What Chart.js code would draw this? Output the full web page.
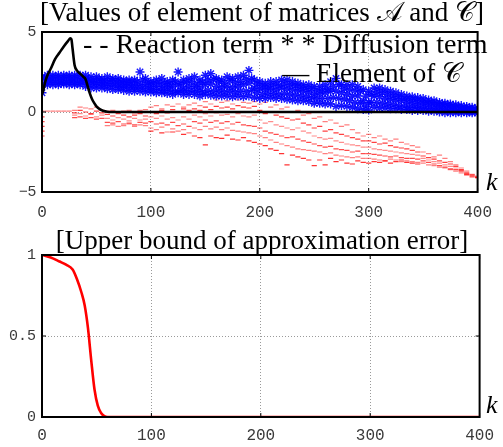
<!DOCTYPE html>
<html><head><meta charset="utf-8">
<script src="https://cdn.jsdelivr.net/npm/chart.js@4"></script>
<style>
html,body{margin:0;padding:0;background:#fff;}
body{width:503px;height:447px;position:relative;overflow:hidden;}
#c1{position:absolute;left:0;top:0;}
#c2{position:absolute;left:0;top:220px;}
</style></head><body>
<canvas id="c1" width="503" height="220"></canvas>
<canvas id="c2" width="503" height="227"></canvas>
<script>
// ---------- DATA ----------
const xTicks = [0, 100, 200, 300, 400];
const yTicksTop = [-5, 0, 5];
const yTicksBottom = [0, 0.5, 1];

// k grid for the scattered matrix elements
const kGrid = [0,5,10,15,20,25,30,35,40,45,50,55,60,65,70,75,80,85,90,95,
  100,105,110,115,120,125,130,135,140,145,150,155,160,165,170,175,180,185,190,195,
  200,205,210,215,220,225,230,235,240,245,250,255,260,265,270,275,280,285,290,295,
  300,305,310,315,320,325,330,335,340,345,350,355,360,365,370,375,380,385,390,395,400];
const kHalf = [2.5,7.5,12.5,17.5,22.5,27.5,32.5,37.5,42.5,47.5,52.5,57.5,62.5,67.5,72.5,77.5,82.5,87.5,92.5,97.5,
  102.5,107.5,112.5,117.5,122.5,127.5,132.5,137.5,142.5,147.5,152.5,157.5,162.5,167.5,172.5,177.5,182.5,187.5,192.5,197.5,
  202.5,207.5,212.5,217.5,222.5,227.5,232.5,237.5,242.5,247.5,252.5,257.5,262.5,267.5,272.5,277.5,282.5,287.5,292.5,297.5,
  302.5,307.5,312.5,317.5,322.5,327.5,332.5,337.5,342.5,347.5,352.5,357.5,362.5,367.5,372.5,377.5,382.5,387.5,392.5,397.5];

// Diffusion term: band read as five rows (top to bottom)
const diffHi = [2.2,2.3,2.3,2.3,2.3,2.3,2.3,2.3,2.3,2.2,2.2,2.1,2.2,2.1,2.1,2.0,2.0,2.0,2.5,2.1,
  1.9,2.0,2.1,1.9,2.0,2.5,2.0,2.1,2.2,2.0,2.3,2.4,2.1,2.0,2.2,2.1,2.2,2.3,2.6,2.0,
  1.9,1.8,1.9,1.9,2.0,2.0,1.9,1.8,1.7,1.7,1.6,1.6,1.7,1.9,2.1,1.7,1.7,1.7,1.6,1.4,
  1.3,1.5,1.5,1.4,1.3,1.2,1.1,1.0,0.95,0.9,0.85,0.75,0.7,0.6,0.55,0.5,0.45,0.4,0.35,0.3,0.25];
const diffUp = [2.1,2.15,2.2,2.15,2.2,2.15,2.2,2.1,
  2.05,2.0,2.05,1.95,2.0,1.95,1.9,1.85,1.85,1.9,2.0,1.85,
  1.8,1.85,1.8,1.75,1.9,1.8,1.85,1.9,1.75,1.85,
  2.0,2.05,1.9,1.8,1.95,1.85,1.9,2.05,2.1,1.75,
  1.65,1.6,1.7,1.65,1.75,1.7,1.65,1.55,1.5,1.45,
  1.35,1.4,1.45,1.6,1.7,1.45,1.4,1.35,1.3,1.0,
  1.1,1.25,1.2,1.1,1.0,0.95,0.85,0.8,0.75,0.7,
  0.65,0.6,0.55,0.5,0.45,0.4,0.35,0.3,0.25,0.2];
const diffMid = [1.7,2.0,2.0,2.0,2.0,2.0,2.0,2.0,1.95,1.9,1.85,1.85,1.8,1.8,1.75,1.7,1.7,1.65,1.7,1.7,
  1.6,1.6,1.6,1.55,1.6,1.7,1.5,1.6,1.6,1.5,1.7,1.75,1.6,1.55,1.6,1.55,1.6,1.7,1.8,1.5,
  1.45,1.4,1.45,1.4,1.5,1.45,1.4,1.35,1.3,1.25,1.1,1.15,1.2,1.3,1.3,1.2,1.1,1.0,1.0,0.7,
  0.6,1.0,0.95,0.85,0.8,0.75,0.7,0.6,0.55,0.5,0.5,0.45,0.4,0.35,0.3,0.25,0.2,0.15,0.12,0.1,0.08];
const diffDn = [1.8,1.85,1.85,1.8,1.85,1.85,1.8,1.85,
  1.75,1.7,1.7,1.65,1.65,1.6,1.55,1.55,1.5,1.5,1.5,1.45,
  1.4,1.4,1.35,1.35,1.3,1.35,1.3,1.35,1.3,1.25,
  1.35,1.3,1.3,1.25,1.3,1.25,1.3,1.3,1.35,1.2,
  1.1,1.15,1.15,1.1,1.15,1.1,1.05,1.0,0.95,0.9,
  0.85,0.85,0.85,0.9,0.85,0.8,0.7,0.6,0.55,0.35,
  0.6,0.6,0.55,0.5,0.45,0.4,0.35,0.3,0.3,0.25,
  0.25,0.2,0.2,0.15,0.1,0.1,0.05,0.05,0.0,0.0];
const diffLo = [1.2,1.7,1.7,1.7,1.75,1.7,1.7,1.7,1.6,1.5,1.5,1.5,1.45,1.4,1.4,1.35,1.3,1.3,1.3,1.25,
  1.25,1.2,1.2,1.15,1.1,1.2,1.1,1.1,1.1,1.0,1.1,1.05,1.0,1.0,1.0,0.95,1.0,0.95,1.0,0.9,
  0.85,0.85,0.9,0.85,0.85,0.8,0.75,0.7,0.7,0.65,0.55,0.55,0.5,0.5,0.35,0.4,0.35,0.3,0.2,0.15,
  0.12,0.3,0.25,0.25,0.2,0.2,0.15,0.15,0.1,0.1,0.1,0.05,0.05,0.0,-0.05,-0.05,-0.05,-0.05,-0.05,-0.05,-0.05];

// Reaction term: scattered cloud read as six rows (top to bottom), null = no mark
const react1 = [0.05,0.05,0.05,0.05,0.05,0.05,
  0.1,0.3,0.25,0.2,0.3,0.1,
  0.05,0.1,0.0,0.05,0.1,-0.05,0.1,0.15,
  0.3,0.4,0.2,0.45,0.35,0.5,0.3,0.45,
  0.55,0.4,0.65,0.5,0.75,0.6,0.7,0.5,0.75,0.6,0.55,0.65,
  0.5,0.6,0.3,0.45,0.2,0.3,0.0,0.1,-0.2,-0.1,
  -0.4,-0.3,-0.6,-0.5,-0.7,-0.9,-0.8,-1.1,-1.3,-1.5,
  -1.4,-1.6,-1.5,-1.7,-1.8,-1.7,-1.9,-2.0,-2.1,-2.2,
  -2.5,-2.6,-2.8,-2.7,-2.9,-3.1,-3.3,-3.5,-3.7,-3.9,-4.0];
const react2 = [null,null,null,null,null,null,
  -0.05,0.1,0.0,-0.1,0.05,-0.05,
  -0.15,-0.25,-0.1,-0.2,-0.3,-0.2,-0.1,-0.25,
  0.0,-0.1,0.1,-0.05,0.15,0.0,0.2,0.1,
  0.2,0.1,0.3,0.15,0.35,0.25,0.3,0.2,0.4,0.3,0.25,0.35,
  0.1,-0.1,0.0,-0.2,-0.3,-0.4,-0.5,-0.45,-0.7,-0.8,
  -1.0,-0.9,-1.2,-1.1,-1.3,-1.4,-1.5,-1.6,-1.7,-1.8,
  -1.8,-1.9,-2.0,-1.95,-2.1,-2.2,-2.25,-2.3,-2.4,-2.5,
  -2.75,-2.85,-2.95,-3.05,-3.15,-3.25,-3.4,-3.6,-3.8,-3.95,-4.05];
const react3 = [null,null,null,null,null,null,
  -0.2,-0.1,-0.25,-0.15,-0.3,-0.2,
  -0.4,-0.5,-0.35,-0.45,-0.55,-0.4,-0.5,-0.45,
  -0.3,-0.4,-0.25,-0.45,-0.35,-0.5,-0.3,-0.45,
  -0.2,-0.3,-0.1,-0.25,-0.05,-0.2,-0.15,-0.3,-0.1,-0.25,-0.3,-0.2,
  -0.5,-0.7,-0.6,-0.8,-0.9,-1.0,-1.1,-1.0,-1.2,-1.3,
  -1.5,-1.6,-1.7,-1.65,-1.8,-1.9,-2.0,-2.05,-2.1,-2.2,
  -2.2,-2.3,-2.35,-2.4,-2.45,-2.5,-2.55,-2.6,-2.65,-2.7,
  -2.9,-3.0,-3.1,-3.2,-3.3,-3.4,-3.5,-3.65,-3.85,-4.0,-4.1];
const react4 = [null,null,null,null,null,null,
  -0.35,-0.3,-0.4,-0.35,-0.45,-0.4,
  -0.65,-0.7,-0.6,-0.75,-0.7,-0.8,-0.65,-0.7,
  -0.6,-0.75,-0.7,-0.8,-0.65,-0.85,-0.75,-0.9,
  -0.6,-0.7,-0.5,-0.65,-0.55,-0.7,-0.6,-0.75,-0.65,-0.8,-0.85,-0.9,
  -1.0,-1.2,-1.3,-1.4,-1.5,-1.6,-1.55,-1.7,-1.8,-1.9,
  -2.0,-2.1,-2.2,-2.15,-2.3,-2.35,-2.4,-2.5,-2.45,-2.6,
  -2.6,-2.65,-2.7,-2.75,-2.8,-2.75,-2.85,-2.9,-2.9,-2.95,
  -3.05,-3.15,-3.25,-3.35,-3.45,-3.55,-3.6,-3.7,-3.9,-4.05,-4.1];
const react5 = [null,null,null,null,null,null,
  null,null,null,null,null,null,
  -0.85,-0.8,-0.9,-0.85,-0.75,-0.9,-0.8,-0.85,
  -1.0,-1.1,-0.95,-1.25,-1.05,-1.2,-1.1,-1.3,
  -1.0,-1.1,-0.9,-1.05,-0.95,-1.1,-1.0,-1.15,-1.2,-1.25,-1.3,-1.35,
  -1.5,-1.6,-1.75,-1.9,-2.0,-2.1,-2.2,-2.3,-2.35,-2.4,
  -2.45,-2.5,-2.6,-2.55,-2.7,-2.75,-2.8,-2.85,-2.8,-2.9,
  -2.9,-2.95,-3.0,-3.05,-2.95,-3.0,-3.1,-3.05,-3.1,-3.15,
  -3.2,-3.3,-3.35,-3.45,-3.5,-3.6,-3.7,-3.8,-3.95,null,null];
const react6 = [null,null,null,null,null,null,
  null,null,null,null,null,null,
  null,null,null,null,null,null,null,null,
  -1.2,null,-1.3,null,-1.25,null,-1.4,null,
  -1.5,-1.6,-2.05,-1.5,-1.6,-1.65,-1.45,-1.7,-1.75,-1.6,-1.8,-1.9,
  -2.0,-2.1,-2.3,-2.4,-2.6,-3.3,-2.7,-2.8,-2.9,-3.0,
  -3.35,-3.0,-3.3,-2.9,-3.1,-3.0,-3.2,-3.25,-3.05,-3.15,
  -3.2,-3.1,-3.15,-3.05,-3.2,-3.1,-3.0,-3.15,-3.2,-3.25,
  null,null,null,null,null,null,null,null,null,null,null];
// reaction term values sitting at k = 0
const reactEdgeK = [0, 0, 0, 0, 0];
const reactEdge = [-0.3, -0.6, -0.9, -1.2, -1.5];

// Element of C
const elemK = [0,1,3,5,8,12,16,20,24,26,27,28,30,32,35,38,40,42,44,46,48,50,53,56,60,70,400];
const elemC = [1.1,1.3,1.9,2.3,2.7,3.3,3.7,4.1,4.45,4.6,4.55,4.0,2.9,2.6,2.4,2.2,2.05,1.6,1.15,0.8,0.55,0.35,0.18,0.08,0.02,0,0];

// Upper bound of approximation error
const errK = [0,8,16,22,28,32,36,39,42,45,48,51,54,57,60,400];
const errV = [1.0,0.985,0.96,0.94,0.91,0.85,0.77,0.69,0.55,0.35,0.17,0.07,0.025,0.005,0,0];

// ---------- HELPERS ----------
const pts = (xs, ys) => xs.map((x, i) => ({x: x, y: ys[i]}));
const mono = '"Liberation Mono", "Courier New", monospace';
const tickColor = '#3a3a3a';

const frame = {
  id: 'frame',
  afterDraw(chart, args, o) {
    const {ctx, chartArea: a} = chart;
    const xs = chart.scales.x, ys = chart.scales.y;
    ctx.save();
    ctx.strokeStyle = '#000';
    ctx.lineWidth = 1;
    ctx.beginPath();
    xs.ticks.forEach(t => {
      const px = xs.getPixelForValue(t.value);
      ctx.moveTo(px, a.bottom); ctx.lineTo(px, a.bottom - 4);
      ctx.moveTo(px, a.top); ctx.lineTo(px, a.top + 4);
    });
    ys.ticks.forEach(t => {
      const py = ys.getPixelForValue(t.value);
      ctx.moveTo(a.left, py); ctx.lineTo(a.left + 4, py);
      ctx.moveTo(a.right, py); ctx.lineTo(a.right - 4, py);
    });
    ctx.stroke();
    ctx.lineWidth = 2;
    ctx.strokeRect(a.left, a.top, a.right - a.left, a.bottom - a.top);
    ctx.fillStyle = '#000';
    (o.texts || []).forEach(t => {
      ctx.font = t.font;
      ctx.textAlign = t.align || 'left';
      ctx.textBaseline = 'alphabetic';
      ctx.fillText(t.s, t.x, t.y);
    });
    ctx.restore();
  }
};

function scales(yMin, yMax, yTicks, xHeight, xPad, yFont) {
  const gridColor = ends => (c => (c.tick && ends.includes(c.tick.value)) ? 'rgba(0,0,0,0)' : '#9a9a9a');
  return {
    x: {
      type: 'linear', min: 0, max: 400,
      afterBuildTicks: ax => { ax.ticks = xTicks.map(v => ({value: v})); },
      ticks: {font: {family: mono, size: 16}, color: tickColor, padding: xPad, maxRotation: 0, autoSkip: false},
      grid: {drawTicks: false, color: gridColor([0, 400]), lineWidth: 1},
      border: {display: false, dash: [1, 2]},
      afterFit: s => { s.height = xHeight; }
    },
    y: {
      type: 'linear', min: yMin, max: yMax,
      afterBuildTicks: ax => { ax.ticks = yTicks.map(v => ({value: v})); },
      ticks: {font: yFont, color: tickColor, padding: 6, autoSkip: false,
        callback: v => (v < 0 ? '\u2212' + Math.abs(v) : String(v))},
      grid: {drawTicks: false, color: gridColor([yMin, yMax]), lineWidth: 1},
      border: {display: false, dash: [1, 2]},
      afterFit: s => { s.width = 42; }
    }
  };
}

const serif = '"Liberation Serif", "DejaVu Serif", serif';

// ---------- TOP CHART ----------
const redDash = (data, alpha) => ({
  label: 'Reaction term', data: data, showLine: false, order: 3,
  pointStyle: 'line', pointRadius: 2.6, borderWidth: 1.2,
  borderColor: 'rgba(255,0,0,' + alpha + ')', backgroundColor: 'rgba(255,0,0,' + alpha + ')'
});
const blueStar = data => ({
  label: 'Diffusion term', data: data, showLine: false, order: 2,
  pointStyle: 'star', pointRadius: 4.5, borderWidth: 1.4,
  borderColor: 'rgba(0,0,255,0.9)', backgroundColor: 'rgba(0,0,255,0.9)'
});

new Chart(document.getElementById('c1'), {
  type: 'scatter',
  data: {
    datasets: [
      {label: 'Element of C', data: pts(elemK, elemC), showLine: true, order: 0,
       borderColor: '#000', borderWidth: 2.6, pointRadius: 0, cubicInterpolationMode: 'monotone', fill: false},
      blueStar(pts(kGrid, diffHi)), blueStar(pts(kHalf, diffUp)), blueStar(pts(kGrid, diffMid)),
      blueStar(pts(kHalf, diffDn)), blueStar(pts(kGrid, diffLo)),
      redDash(pts(kGrid, react1), 0.5), redDash(pts(kGrid, react2), 0.75), redDash(pts(kGrid, react3), 0.45),
      redDash(pts(kGrid, react4), 0.7), redDash(pts(kGrid, react5), 0.5), redDash(pts(kGrid, react6), 0.8),
      redDash(pts(reactEdgeK, reactEdge), 0.7)
    ]
  },
  options: {
    responsive: false, animation: false, devicePixelRatio: 1,
    layout: {padding: {top: 32, right: 21, left: 0, bottom: 0}},
    plugins: {
      legend: {display: false}, tooltip: {enabled: false},
      frame: {texts: [
        {s: '[Values of element of matrices \u{1D49C} and \u{1D49E}]', x: 262, y: 21, align: 'center', font: '27px ' + serif},
        {s: '- - Reaction term * * Diffusion term', x: 83, y: 53, align: 'left', font: '28px ' + serif},
        {s: '\u2014 Element of \u{1D49E}', x: 462, y: 82, align: 'right', font: '27px ' + serif},
        {s: 'k', x: 486, y: 190, align: 'left', font: 'italic 26px ' + serif}
      ]}
    },
    scales: scales(-5, 5, yTicksTop, 28, 11, {family: '"Liberation Sans", sans-serif', size: 15})
  },
  plugins: [frame]
});

// ---------- BOTTOM CHART ----------
new Chart(document.getElementById('c2'), {
  type: 'scatter',
  data: {
    datasets: [
      {label: 'Upper bound of approximation error', data: pts(errK, errV), showLine: true,
       borderColor: '#ff0000', borderWidth: 2.6, pointRadius: 0, cubicInterpolationMode: 'monotone', fill: false}
    ]
  },
  options: {
    responsive: false, animation: false, devicePixelRatio: 1,
    layout: {padding: {top: 35, right: 21, left: 0, bottom: 0}},
    plugins: {
      legend: {display: false}, tooltip: {enabled: false},
      frame: {texts: [
        {s: '[Upper bound of approximation error]', x: 262, y: 29, align: 'center', font: '27px ' + serif},
        {s: 'k', x: 486, y: 193, align: 'left', font: 'italic 26px ' + serif}
      ]}
    },
    scales: scales(0, 1, yTicksBottom, 30, 9, {family: mono, size: 15})
  },
  plugins: [frame]
});
</script>
</body></html>
